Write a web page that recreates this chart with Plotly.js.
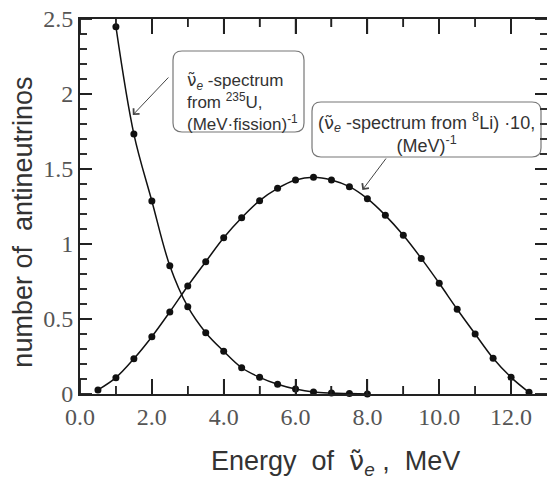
<!DOCTYPE html>
<html>
<head>
<meta charset="utf-8">
<script src="https://cdn.plot.ly/plotly-3.0.1.min.js"></script>
<style>html,body{margin:0;padding:0;background:#fff;}#chart{width:547px;height:480px;}</style>
</head>
<body>
<div id="chart"></div>
<script>
// Energy (MeV) and spectra
const energyU = [1.0, 1.5, 2.0, 2.5, 3.0, 3.5, 4.0, 4.5, 5.0, 5.5, 6.0, 6.5, 7.0, 7.5, 8.0];
const spectrumU235 = [2.449, 1.733, 1.287, 0.855, 0.582, 0.409, 0.285, 0.175, 0.111, 0.065, 0.033, 0.013, 0.006, 0.003, 0.0];
const energyLi = [0.5, 1.0, 1.5, 2.0, 2.5, 3.0, 3.5, 4.0, 4.5, 5.0, 5.5, 6.0, 6.5, 7.0, 7.5, 8.0, 8.5, 9.0, 9.5, 10.0, 10.5, 11.0, 11.5, 12.0, 12.5];
const spectrumLi8x10 = [0.027, 0.109, 0.235, 0.382, 0.547, 0.72, 0.882, 1.042, 1.175, 1.289, 1.371, 1.427, 1.445, 1.427, 1.382, 1.302, 1.191, 1.058, 0.904, 0.738, 0.565, 0.40, 0.238, 0.111, 0.011];
const xTickVals = [0, 2, 4, 6, 8, 10, 12];
const xTickText = ["0.0", "2.0", "4.0", "6.0", "8.0", "10.0", "12.0"];
const xMinorVals = [1, 3, 5, 7, 9, 11];
const yTickVals = [0, 0.5, 1, 1.5, 2, 2.5];
const yMinorVals = [0.1, 0.2, 0.3, 0.4, 0.6, 0.7, 0.8, 0.9, 1.1, 1.2, 1.3, 1.4, 1.6, 1.7, 1.8, 1.9, 2.1, 2.2, 2.3, 2.4];
const xRange = [0, 13];
const yRange = [0, 2.5];

const W = 547, H = 480;
const M = {l: 80, r: 0, t: 19, b: 86};
const plotW = W - M.l - M.r, plotH = H - M.t - M.b;
const pxPerX = plotW / (xRange[1] - xRange[0]);
const pxPerY = plotH / (yRange[1] - yRange[0]);

const serif = "Liberation Serif, Times New Roman, serif";
const sans = "Liberation Sans, Arial, sans-serif";
const nu = "<span style=\"font-family:DejaVu Sans\">\u03BD\u0303</span><sub><i>e</i></sub>";

const common = {
  mode: "lines+markers",
  line: {shape: "spline", smoothing: 1, color: "#111", width: 1.5},
  marker: {size: 7, color: "#111"},
  cliponaxis: false,
  showlegend: false,
  hoverinfo: "x+y"
};

// tick segments as a line trace (inside ticks on all four sides), from the tick arrays
const tickX = [], tickY = [];
function addX(vals, len) {
  const d = len / pxPerY;
  vals.forEach(v => { tickX.push(v, v, null, v, v, null); tickY.push(yRange[0], yRange[0] + d, null, yRange[1], yRange[1] - d, null); });
}
function addY(vals, len) {
  const d = len / pxPerX;
  vals.forEach(v => { tickX.push(xRange[0], xRange[0] + d, null, xRange[1], xRange[1] - d, null); tickY.push(v, v, null, v, v, null); });
}
addX(xTickVals, 15); addX(xMinorVals, 8); addY(yTickVals, 12); addY(yMinorVals, 7);

const data = [
  {x: tickX, y: tickY, mode: "lines", line: {color: "#222", width: 1.5}, connectgaps: false, cliponaxis: false, showlegend: false, hoverinfo: "skip"},
  Object.assign({x: energyU, y: spectrumU235, name: "U-235"}, common),
  Object.assign({x: energyLi, y: spectrumLi8x10, name: "Li-8"}, common)
];

function roundRect(x0, y0, x1, y1, r) {
  return `M${x0+r},${y0} L${x1-r},${y0} Q${x1},${y0} ${x1},${y0+r} L${x1},${y1-r} Q${x1},${y1} ${x1-r},${y1} L${x0+r},${y1} Q${x0},${y1} ${x0},${y1-r} L${x0},${y0+r} Q${x0},${y0} ${x0+r},${y0} Z`;
}

function tickPath(xs, xLen, ys, yLen) {
  let p = "";
  xs.forEach(v => {
    const px = Math.round((v - xRange[0]) * pxPerX);
    p += `M${px},0 L${px},${xLen} M${px},${plotH} L${px},${plotH - xLen} `;
  });
  ys.forEach(v => {
    const py = Math.round((v - yRange[0]) * pxPerY);
    p += `M0,${py} L${yLen},${py} M${plotW},${py} L${plotW - yLen},${py} `;
  });
  return p.trim();
}

const layout = {
  width: W, height: H,
  margin: M,
  paper_bgcolor: "#fff", plot_bgcolor: "#fff",
  xaxis: {
    range: xRange, tickvals: xTickVals, ticktext: xTickText,
    ticks: "inside", ticklen: 15, tickwidth: 1.5, tickcolor: "#222",
    showline: true, linecolor: "#222", linewidth: 2, mirror: "ticks",
    showgrid: false, zeroline: false,
    tickfont: {family: serif, size: 24, color: "#555"}
  },
  yaxis: {
    range: yRange, tickvals: yTickVals,
    ticks: "inside", ticklen: 12, tickwidth: 1.5, tickcolor: "#222",
    showline: true, linecolor: "#222", linewidth: 2, mirror: "ticks",
    showgrid: false, zeroline: false,
    tickfont: {family: serif, size: 24, color: "#555"}
  },
  shapes: [
    {type: "path", xref: "paper", yref: "paper", xsizemode: "pixel", ysizemode: "pixel", xanchor: 0, yanchor: 0,
     path: roundRect(93, 262, 224, 343, 9), line: {color: "#777", width: 1.2}, fillcolor: "rgba(255,255,255,0)"},
    {type: "path", xref: "paper", yref: "paper", xsizemode: "pixel", ysizemode: "pixel", xanchor: 0, yanchor: 0,
     path: roundRect(232, 237, 461, 292, 9), line: {color: "#777", width: 1.2}, fillcolor: "rgba(255,255,255,0)"},
    {type: "path", xref: "paper", yref: "paper", xsizemode: "pixel", ysizemode: "pixel", xanchor: 0, yanchor: 0,
     path: tickPath(xTickVals, 15, yTickVals, 12), line: {color: "#222", width: 1.5}, fillcolor: "rgba(255,255,255,0)"},
    {type: "path", xref: "paper", yref: "paper", xsizemode: "pixel", ysizemode: "pixel", xanchor: 0, yanchor: 0,
     path: tickPath(xMinorVals, 8, yMinorVals, 7), line: {color: "#222", width: 1.3}, fillcolor: "rgba(255,255,255,0)"}
  ],
  annotations: [
    {xref: "x", yref: "y", x: 2.92, y: 1.95, xanchor: "left", yanchor: "middle", align: "left", showarrow: false,
     text: nu + " -spectrum<br>from <sup>235</sup>U,<br>(MeV\u00B7fission)<sup>-1</sup>",
     font: {family: sans, size: 17, color: "#333"}},
    {xref: "x", yref: "y", x: 9.65, y: 1.74, xanchor: "center", yanchor: "middle", align: "center", showarrow: false,
     text: "(" + nu + " -spectrum from <sup>8</sup>Li) \u00B710,<br>(MeV)<sup>-1</sup>",
     font: {family: sans, size: 18, color: "#333"}},
    {xref: "x", yref: "y", x: 1.47, y: 1.86, axref: "x", ayref: "y", ax: 2.5, ay: 2.12, text: "",
     showarrow: true, arrowhead: 4, arrowsize: 1.6, arrowwidth: 1, arrowcolor: "#444", standoff: 0, startstandoff: 0},
    {xref: "x", yref: "y", x: 7.86, y: 1.36, axref: "x", ayref: "y", ax: 8.55, ay: 1.58, text: "",
     showarrow: true, arrowhead: 4, arrowsize: 1.6, arrowwidth: 1, arrowcolor: "#444", standoff: 0, startstandoff: 0},
    {xref: "paper", yref: "paper", x: 0, y: 0.457, xshift: -57, xanchor: "center", yanchor: "middle", textangle: -90,
     showarrow: false, text: "number of  antineutrinos", font: {family: sans, size: 27, color: "#333"}},
    {xref: "paper", yref: "paper", x: 0.547, y: 0, yshift: -68, xanchor: "center", yanchor: "middle",
     showarrow: false, text: "Energy  of  " + nu + " ,  MeV", font: {family: sans, size: 27, color: "#333"}}
  ]
};

Plotly.newPlot("chart", data, layout, {displayModeBar: false});
</script>
</body>
</html>
